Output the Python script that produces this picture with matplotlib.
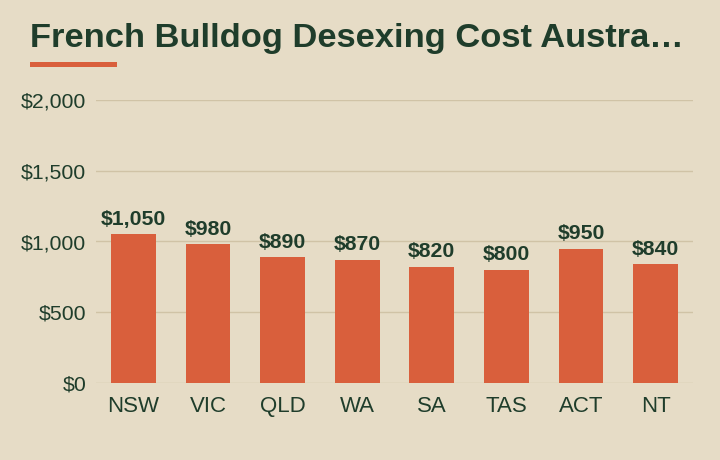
import matplotlib
matplotlib.use("Agg")
import matplotlib.pyplot as plt
from matplotlib.patches import Rectangle

# Chart data
states = ["NSW", "VIC", "QLD", "WA", "SA", "TAS", "ACT", "NT"]
costs = [1050, 980, 890, 870, 820, 800, 950, 840]
yticks = [0, 500, 1000, 1500, 2000]
title = "French Bulldog Desexing Cost Austra\u2026"

bg = "#e6dcc6"
bar_color = "#d95f3c"
text_color = "#1f3d2b"
grid_color = "#d0c3a6"

plt.rcParams["font.family"] = ["Liberation Sans", "DejaVu Sans"]

# 4.6001 so the canvas rounds to a full 460 px
fig = plt.figure(figsize=(7.2, 4.6001), dpi=100)
fig.patch.set_facecolor(bg)
ax = fig.add_axes([96 / 720, 1 - 383 / 460, (693 - 96) / 720, (383 - 100) / 460])
ax.set_facecolor(bg)

x = range(len(states))
bars = ax.bar(x, costs, width=0.6, color=bar_color, zorder=3)

for b, v in zip(bars, costs):
    ax.annotate(f"${v:,}", (b.get_x() + b.get_width() / 2, v),
                xytext=(0, 4), textcoords="offset points",
                ha="center", va="bottom", fontsize=15.3, fontweight="bold",
                color=text_color)

ax.set_xlim(-0.5, len(states) - 0.5)
ax.set_ylim(0, 2000)
ax.set_yticks(yticks)
ax.set_yticklabels([f"${t:,}" for t in yticks])
ax.set_xticks(list(x))
ax.set_xticklabels(states)
ax.tick_params(axis="y", length=0, pad=7, labelsize=15.3, labelcolor=text_color)
ax.tick_params(axis="x", length=0, pad=9, labelsize=16, labelcolor=text_color)
ax.grid(axis="y", color=grid_color, linewidth=1, zorder=0)
ax.set_axisbelow(True)
for s in ax.spines.values():
    s.set_visible(False)

fig.text(30 / 720, 1 - 47 / 460, title, fontsize=24.8, fontweight="bold",
         color=text_color, va="baseline", ha="left")
fig.add_artist(Rectangle((30 / 720, 1 - 67 / 460), 87 / 720, 5 / 460,
                         transform=fig.transFigure, color=bar_color, lw=0))

fig.savefig("out.png", dpi=100, facecolor=bg)
